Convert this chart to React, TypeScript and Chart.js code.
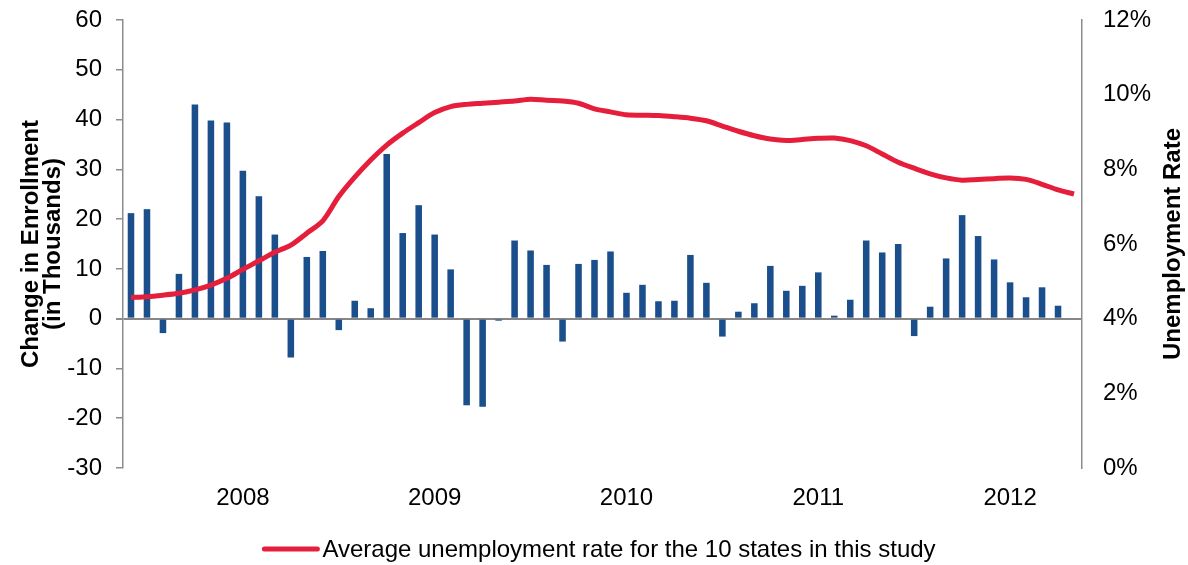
import React, { useEffect, useRef } from "react";
import { Chart, registerables } from "chart.js";

Chart.register(...registerables);

const categories = [
  "2007-06", "2007-07", "2007-08", "2007-09", "2007-10", "2007-11", "2007-12",
  "2008-01", "2008-02", "2008-03", "2008-04", "2008-05", "2008-06", "2008-07", "2008-08", "2008-09", "2008-10", "2008-11", "2008-12",
  "2009-01", "2009-02", "2009-03", "2009-04", "2009-05", "2009-06", "2009-07", "2009-08", "2009-09", "2009-10", "2009-11", "2009-12",
  "2010-01", "2010-02", "2010-03", "2010-04", "2010-05", "2010-06", "2010-07", "2010-08", "2010-09", "2010-10", "2010-11", "2010-12",
  "2011-01", "2011-02", "2011-03", "2011-04", "2011-05", "2011-06", "2011-07", "2011-08", "2011-09", "2011-10", "2011-11", "2011-12",
  "2012-01", "2012-02", "2012-03", "2012-04", "2012-05",
];

const enrollmentChange = [
  21.2, 22.0, -2.9, 9.0, 43.0, 39.8, 39.4, 29.7, 24.6, 16.9,
  -7.8, 12.4, 13.6, -2.3, 3.6, 2.1, 33.1, 17.2, 22.8, 16.9,
  9.9, -17.4, -17.7, -0.4, 15.7, 13.7, 10.8, -4.6, 11.0, 11.8,
  13.5, 5.2, 6.8, 3.5, 3.6, 12.8, 7.2, -3.6, 1.4, 3.1,
  10.6, 5.6, 6.6, 9.3, 0.6, 3.8, 15.7, 13.3, 15.0, -3.5,
  2.4, 12.1, 20.8, 16.6, 11.9, 7.3, 4.3, 6.3, 2.6, null,
];

const unemploymentRate = [
  4.57, 4.59, 4.63, 4.68, 4.77, 4.90, 5.08, 5.32, 5.55, 5.78,
  5.97, 6.29, 6.62, 7.27, 7.79, 8.25, 8.65, 8.97, 9.25, 9.52,
  9.68, 9.74, 9.77, 9.80, 9.83, 9.88, 9.85, 9.83, 9.77, 9.62,
  9.54, 9.46, 9.45, 9.44, 9.41, 9.37, 9.30, 9.16, 9.02, 8.90,
  8.81, 8.77, 8.80, 8.83, 8.84, 8.77, 8.63, 8.41, 8.19, 8.03,
  7.88, 7.77, 7.71, 7.73, 7.75, 7.77, 7.73, 7.60, 7.45, 7.34,
];

const leftTitle = ["Change in Enrollment", "(in Thousands)"];
const rightTitle = "Unemployment Rate";
const lineLabel = "Average unemployment rate for the 10 states in this study";

const FONT = "'Liberation Sans', Arial, sans-serif";
const BAR_COLOR = "#1B4F8C";
const LINE_COLOR = "#E41E3B";
const AXIS_COLOR = "#8C8C8C";

const extrasPlugin = {
  id: "extras",
  afterDraw(chart: any) {
    const ctx = chart.ctx;
    const area = chart.chartArea;
    // right axis title, reading bottom to top
    ctx.save();
    ctx.font = `bold 24px ${FONT}`;
    ctx.fillStyle = "#000";
    ctx.textAlign = "center";
    ctx.textBaseline = "middle";
    ctx.translate(1173, (area.top + area.bottom) / 2);
    ctx.rotate(-Math.PI / 2);
    ctx.fillText(rightTitle, 0, 0);
    ctx.restore();

    // legend
    const ds = chart.data.datasets.find((d: any) => d.type === "line");
    if (!ds) return;
    ctx.save();
    ctx.font = `24px ${FONT}`;
    const text = ds.label as string;
    const tw = ctx.measureText(text).width;
    const sw = 57;
    const gap = 3;
    const total = sw + gap + tw;
    const cx = 599;
    const y = 549;
    const x0 = cx - total / 2;
    ctx.strokeStyle = ds.borderColor;
    ctx.lineWidth = 5;
    ctx.lineCap = "round";
    ctx.beginPath();
    ctx.moveTo(x0 + 2, y);
    ctx.lineTo(x0 + sw - 2, y);
    ctx.stroke();
    ctx.fillStyle = "#000";
    ctx.textBaseline = "middle";
    ctx.textAlign = "left";
    ctx.fillText(text, x0 + sw + gap, y + 1);
    ctx.restore();
  },
};

export default function App() {
  const ref = useRef<HTMLCanvasElement | null>(null);

  useEffect(() => {
    if (!ref.current) return;
    Chart.defaults.font.family = FONT;
    Chart.defaults.font.size = 24;
    Chart.defaults.color = "#000";
    const chart = new Chart(ref.current, {
      type: "bar",
      data: {
        labels: categories,
        datasets: [
          {
            type: "line",
            label: lineLabel,
            data: unemploymentRate,
            yAxisID: "y1",
            borderColor: LINE_COLOR,
            backgroundColor: LINE_COLOR,
            borderWidth: 5,
            pointRadius: 0,
            tension: 0.3,
            order: 0,
          } as any,
          {
            type: "bar",
            label: "Change in Enrollment",
            data: enrollmentChange,
            yAxisID: "y",
            backgroundColor: BAR_COLOR,
            borderWidth: 0,
            barPercentage: 0.41,
            categoryPercentage: 1,
            order: 1,
          } as any,
        ],
      },
      options: {
        responsive: false,
        animation: false,
        layout: { padding: { top: 20, bottom: 49, left: 0, right: 0 } },
        plugins: {
          legend: { display: false },
          tooltip: { enabled: false },
        },
        scales: {
          x: {
            type: "category",
            offset: true,
            grid: { display: false, drawTicks: false },
            border: { display: false },
            ticks: {
              autoSkip: false,
              maxRotation: 0,
              minRotation: 0,
              padding: 16,
              font: { size: 24 },
              callback: (_v: any, i: number) => {
                const c = categories[i];
                return c.endsWith("-01") ? c.slice(0, 4) : "";
              },
            },
            afterFit: (s: any) => {
              s.height = 48;
              s.paddingLeft = 0;
              s.paddingRight = 0;
            },
          },
          y: {
            position: "left",
            min: -30,
            max: 60,
            ticks: { stepSize: 10, padding: 14, font: { size: 24 } },
            grid: {
              drawOnChartArea: true,
              drawTicks: true,
              tickLength: 7,
              tickColor: AXIS_COLOR,
              color: (c: any) => (c.tick && c.tick.value === 0 ? "#868686" : "rgba(0,0,0,0)"),
              lineWidth: (c: any) => (c.tick && c.tick.value === 0 ? 2 : 1.5),
            },
            border: { display: true, color: AXIS_COLOR, width: 1.5 },
            title: {
              display: true,
              text: leftTitle,
              font: { size: 24, weight: "bold", lineHeight: 0.92 },
              padding: { top: 20, bottom: 0 },
            },
            afterFit: (s: any) => {
              s.width = 123;
              s.paddingTop = 0;
              s.paddingBottom = 0;
            },
          },
          y1: {
            position: "right",
            min: 0,
            max: 12,
            ticks: {
              stepSize: 2,
              padding: 21,
              font: { size: 24 },
              callback: (v: any) => `${v}%`,
            },
            grid: { display: false, drawTicks: false, drawOnChartArea: false },
            border: { display: true, color: AXIS_COLOR, width: 1.5 },
            afterFit: (s: any) => {
              s.width = 106;
              s.paddingTop = 0;
              s.paddingBottom = 0;
            },
          },
        },
      } as any,
      plugins: [extrasPlugin],
    });
    return () => chart.destroy();
  }, []);

  return (
    <div style={{ position: "fixed", left: 0, top: 0, width: 1188, height: 565, background: "#fff" }}>
      <canvas ref={ref} width={1188} height={565} style={{ display: "block" }} />
    </div>
  );
}
